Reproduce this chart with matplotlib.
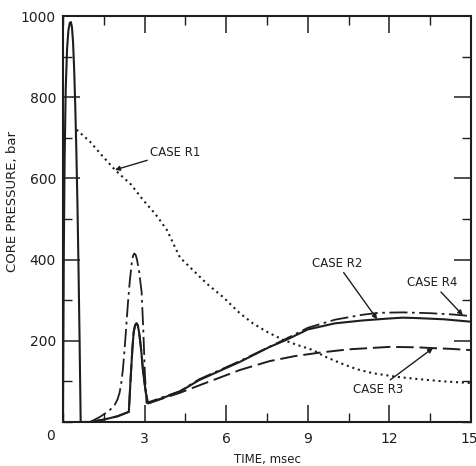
import matplotlib
matplotlib.use("Agg")
import matplotlib.pyplot as plt
import matplotlib.transforms as mtransforms
from matplotlib.ticker import MultipleLocator

# ---- data ----
r1_t = [0.5, 1.0, 1.36, 1.91, 2.5, 2.94, 3.4, 3.82, 4.3, 4.78, 5.3, 5.88, 6.5, 6.98, 7.5, 8.1, 8.6, 9.2, 9.6, 10.2, 10.8, 11.4, 12.3, 13.0, 14.0, 15.0]
r1_p = [720, 690, 662, 621, 585, 547, 512, 473, 405, 374, 340, 308, 268, 243, 222, 202, 190, 177, 162, 145, 130, 120, 111, 106, 100, 96]

r2_t = [0.0, 0.01, 0.03, 0.06, 0.1, 0.15, 0.2, 0.25, 0.29, 0.33, 0.37, 0.41, 0.45, 0.49, 0.53, 0.57, 0.61, 0.65,
        1.0, 1.5, 2.0, 2.42, 2.48, 2.55, 2.6, 2.65, 2.7, 2.75, 2.8, 2.87, 2.95, 3.05, 3.13,
        4.3, 5.0, 6.5, 7.6, 8.2, 9.0, 10.0, 11.0, 12.0, 12.5, 13.0, 14.0, 15.0]
r2_p = [0, 150, 420, 650, 820, 920, 965, 983, 985, 972, 935, 870, 780, 670, 540, 380, 200, 0,
        0, 6, 14, 25, 100, 180, 222, 238, 243, 238, 220, 180, 120, 70, 46,
        75, 103, 148, 185, 202, 228, 243, 250, 255, 257, 256, 253, 247]

r3_t = [1.0, 1.5, 2.0, 2.42, 2.48, 2.55, 2.6, 2.65, 2.7, 2.75, 2.8, 2.87, 2.95, 3.05, 3.13, 4.3, 5.04, 6.5, 7.6, 8.5, 9.45, 10.5, 12.0, 13.0, 13.6, 14.3, 15.0]
r3_p = [0, 6, 14, 25, 100, 180, 222, 238, 243, 238, 220, 180, 120, 70, 46, 72, 91, 128, 150, 162, 171, 179, 185, 184, 182, 180, 177]

r4_t = [1.0, 1.37, 1.7, 1.9, 2.0, 2.08, 2.14, 2.2, 2.26, 2.32, 2.39, 2.46, 2.53, 2.58, 2.62, 2.67, 2.72, 2.8, 2.89, 2.95, 3.01, 3.07,
        4.3, 5.0, 6.5, 8.2, 9.0, 10.0, 11.0, 11.6, 12.5, 13.5, 14.3, 15.0]
r4_p = [0, 13, 28, 42, 55, 72, 95, 128, 175, 230, 295, 350, 393, 410, 415, 412, 400, 370, 320, 230, 120, 47,
        76, 105, 150, 205, 232, 252, 264, 269, 270, 268, 265, 261]

x_ticks = [3, 6, 9, 12, 15]
y_ticks = [200, 400, 600, 800, 1000]

# ---- figure ----
fig = plt.figure(figsize=(4.77, 4.66), dpi=100)
ax = fig.add_axes([63/477, 44/466, 408/477, 406/466])
ink = "#1e1e1e"

ax.plot(r1_t, r1_p, color=ink, lw=1.5, linestyle=(0, (1, 1.8)))
ax.plot(r2_t, r2_p, color=ink, lw=1.5, linestyle="-")
ax.plot(r3_t, r3_p, color=ink, lw=1.4, linestyle=(0, (9, 3)))
ax.plot(r4_t, r4_p, color=ink, lw=1.3, linestyle=(0, (10, 2.5, 1.5, 2.5)))

ax.set_xlim(0, 15)
ax.set_ylim(0, 1000)
ax.set_xticks(x_ticks)
ax.set_yticks(y_ticks)
ax.xaxis.set_minor_locator(MultipleLocator(1.5))
ax.yaxis.set_minor_locator(MultipleLocator(100))
ax.tick_params(which="both", direction="in", top=True, right=True, colors=ink, labelsize=10)
ax.tick_params(which="major", length=12, width=1.1)
ax.tick_params(which="minor", length=6.5, width=1.0)
ax.tick_params(axis="x", pad=7)
ax.tick_params(axis="y", pad=5)
for s in ax.spines.values():
    s.set_linewidth(1.5)
    s.set_color(ink)

# nudge the last x label so it stays inside the canvas
xl = ax.get_xticklabels()
xl[-1].set_horizontalalignment("right")
offset = mtransforms.ScaledTranslation(7/100, 0, fig.dpi_scale_trans)
xl[-1].set_transform(xl[-1].get_transform() + offset)

ax.text(-0.47, -35, "0", ha="center", va="center", fontsize=10, color=ink)

ax.set_xlabel("TIME, msec", fontsize=8.5, color=ink, labelpad=5)
ax.set_ylabel("CORE PRESSURE, bar", fontsize=9.5, color=ink)
ax.yaxis.set_label_coords(-0.108, 0.543)

arrow = dict(arrowstyle="-|>", color=ink, lw=1.0, mutation_scale=7, shrinkA=0, shrinkB=0)
ax.annotate("CASE R1", xy=(1.91, 621), xytext=(3.2, 665), fontsize=8.5, color=ink,
            va="center", ha="left", arrowprops=arrow)
ax.annotate("CASE R2", xy=(11.55, 253), xytext=(11.0, 391), fontsize=8.5, color=ink,
            va="center", ha="right", arrowprops=arrow)
ax.annotate("CASE R4", xy=(14.7, 263), xytext=(14.5, 343), fontsize=8.5, color=ink,
            va="center", ha="right", arrowprops=arrow)
ax.annotate("CASE R3", xy=(13.6, 182), xytext=(12.5, 81), fontsize=8.5, color=ink,
            va="center", ha="right", arrowprops=arrow)

fig.savefig("out.png", dpi=100)
